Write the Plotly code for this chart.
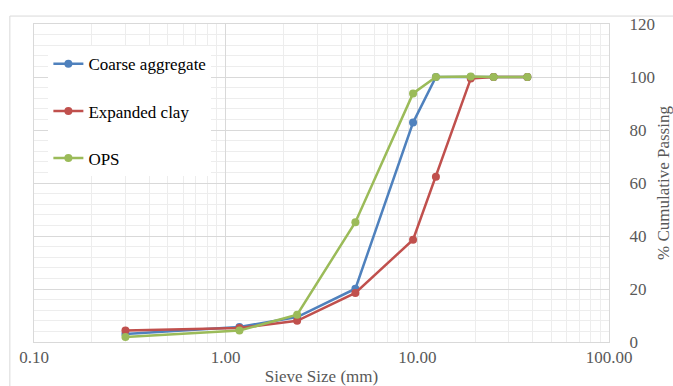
import plotly.graph_objects as go

sieve_mm = [0.3, 1.18, 2.36, 4.75, 9.5, 12.5, 19, 25, 37.5]
coarse_aggregate = [3.0, 5.7, 9.4, 20.1, 82.8, 100, 100, 100, 100]
expanded_clay = [4.3, 5.3, 8.0, 18.5, 38.6, 62.4, 99.4, 100, 100]
ops = [1.9, 4.3, 10.3, 45.2, 93.8, 100, 100.2, 100, 100]
series_names = ["Coarse aggregate", "Expanded clay", "OPS"]
colors = ["#4F81BD", "#C0504D", "#9BBB59"]
x_tickvals = [0.1, 1, 10, 100]
x_ticktext = ["0.10", "1.00", "10.00", "100.00"]

fig = go.Figure()
for i, (name, vals) in enumerate(zip(series_names, [coarse_aggregate, expanded_clay, ops])):
    fig.add_trace(go.Scatter(
        x=sieve_mm, y=vals, name=name, mode="lines+markers",
        line=dict(color=colors[i], width=2.5),
        marker=dict(color=colors[i], size=8),
        legendgroup=name,
    ))

serif = "'Liberation Serif', 'Times New Roman', 'DejaVu Serif', serif"
fig.update_layout(
    width=673, height=386,
    margin=dict(l=34, r=64, t=24, b=44),
    paper_bgcolor="white", plot_bgcolor="white",
    font=dict(family=serif, color="#595959", size=17),
    showlegend=True,
    legend=dict(
        x=0.025, y=0.93, xanchor="left", yanchor="top",
        bgcolor="white", font=dict(family=serif, size=17, color="black"),
        tracegroupgap=22, itemwidth=30,
    ),
    xaxis=dict(
        type="log", range=[-1, 2], automargin=False,
        tickvals=x_tickvals, ticktext=x_ticktext,
        showgrid=True, gridcolor="#D9D9D9", gridwidth=1,
        minor=dict(dtick="D1", showgrid=True, gridcolor="#EDEDED", ticks=""),
        showline=True, linecolor="#D9D9D9", mirror=True,
        ticks="", zeroline=False,
        title=dict(text="Sieve Size (mm)", standoff=6, font=dict(family=serif, size=17, color="#595959")),
        tickfont=dict(family=serif, size=17, color="#595959"),
    ),
    yaxis=dict(
        side="right", range=[0, 120], dtick=20, automargin=False,
        showgrid=True, gridcolor="#D9D9D9", gridwidth=1,
        minor=dict(dtick=4, showgrid=True, gridcolor="#EDEDED", ticks=""),
        showline=True, linecolor="#D9D9D9", mirror=True,
        ticks="", zeroline=False, ticklabelstandoff=16,
        title=dict(text="% Cumulative Passing", standoff=8, font=dict(family=serif, size=17, color="#595959")),
        tickfont=dict(family=serif, size=17, color="#595959"),
    ),
)
fig.add_shape(type="rect", xref="paper", yref="paper",
              x0=-0.042, x1=1.2, y0=-0.2, y1=1.025,
              line=dict(color="#D9D9D9", width=1), fillcolor="rgba(0,0,0,0)", layer="below")
fig.write_html("out.html")
